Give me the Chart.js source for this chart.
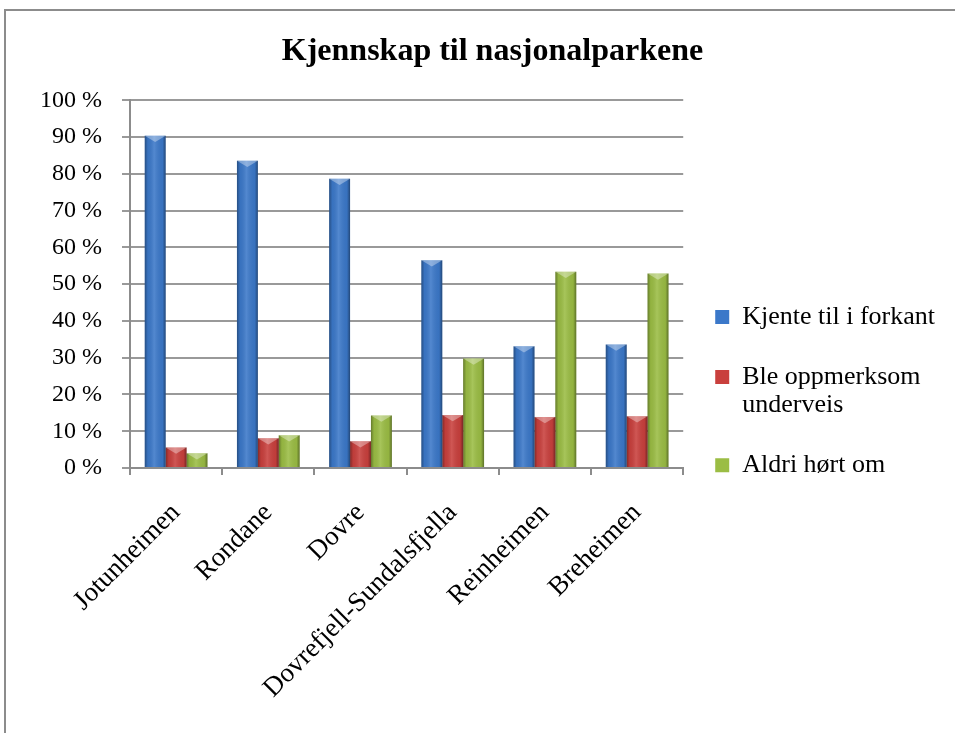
<!DOCTYPE html>
<html>
<head>
<meta charset="utf-8">
<script src="https://cdn.jsdelivr.net/npm/chart.js@4.4.1/dist/chart.umd.min.js"></script>
<style>
  html, body { margin: 0; padding: 0; background: #fff; overflow: hidden; }
  #frame { position: absolute; left: 4px; top: 9px; width: 1000px; height: 800px; border: 2px solid #8c8c8c; }
  #wrap { position: absolute; left: 0; top: 0; width: 955px; height: 733px; }
</style>
</head>
<body>
<div id="frame"></div>
<div id="wrap"><canvas id="chart"></canvas></div>
<script>
var categories = ['Jotunheimen', 'Rondane', 'Dovre', 'Dovrefjell-Sundalsfjella', 'Reinheimen', 'Breheimen'];
var knewBefore = [90.4, 83.6, 78.7, 56.5, 33.1, 33.6];
var noticedOnTheWay = [5.6, 8.1, 7.3, 14.4, 13.9, 14.1];
var neverHeard = [4.0, 8.9, 14.3, 29.8, 53.4, 52.9];
var seriesNames = ['Kjente til i forkant', 'Ble oppmerksom underveis', 'Aldri hørt om'];
var legendLines = [['Kjente til i forkant'], ['Ble oppmerksom', 'underveis'], ['Aldri hørt om']];
var yTicks = [0, 10, 20, 30, 40, 50, 60, 70, 80, 90, 100];

var serif = '"Liberation Serif", "Times New Roman", serif';

// shading on top of the flat bars, roughly like the office 3d bevel
var bevel = {
  id: 'bevel',
  afterDatasetsDraw: function (chart) {
    var ctx = chart.ctx;
    chart.data.datasets.forEach(function (ds, i) {
      chart.getDatasetMeta(i).data.forEach(function (bar) {
        var p = bar.getProps(['x', 'y', 'base', 'width'], true);
        var l = p.x - p.width / 2, r = p.x + p.width / 2;
        var g = ctx.createLinearGradient(l, 0, r, 0);
        g.addColorStop(0, 'rgba(0,0,0,0.35)');
        g.addColorStop(0.15, 'rgba(0,0,0,0.05)');
        g.addColorStop(0.45, 'rgba(255,255,255,0.12)');
        g.addColorStop(0.85, 'rgba(0,0,0,0.05)');
        g.addColorStop(1, 'rgba(0,0,0,0.4)');
        ctx.save();
        ctx.fillStyle = g;
        ctx.fillRect(l, p.y, p.width, p.base - p.y);
        var h = Math.min(p.width * 0.3, p.base - p.y);
        ctx.beginPath();
        ctx.moveTo(l, p.y);
        ctx.lineTo(r, p.y);
        ctx.lineTo(p.x, p.y + h);
        ctx.closePath();
        ctx.fillStyle = 'rgba(255,255,255,0.35)';
        ctx.fill();
        ctx.restore();
      });
    });
  }
};

var ctx = document.getElementById('chart').getContext('2d');

new Chart(ctx, {
  type: 'bar',
  data: {
    labels: categories,
    datasets: [{
      label: seriesNames[0],
      backgroundColor: '#3b78c9',
      data: knewBefore
    }, {
      label: seriesNames[1],
      backgroundColor: '#c9403d',
      data: noticedOnTheWay
    }, {
      label: seriesNames[2],
      backgroundColor: '#9bbd44',
      data: neverHeard
    }]
  },
  options: {
    responsive: true,
    maintainAspectRatio: false,
    animation: false,
    layout: {
      padding: { left: 40, right: 10, top: 0, bottom: 0 }
    },
    datasets: {
      bar: { categoryPercentage: 0.68, barPercentage: 1 }
    },
    plugins: {
      title: {
        display: true,
        text: 'Kjennskap til nasjonalparkene',
        color: '#000',
        font: { family: serif, size: 32, weight: 'bold', lineHeight: 1.2 },
        padding: { top: 33, bottom: 29 }
      },
      legend: {
        position: 'right',
        align: 'center',
        maxWidth: 400,
        title: {
          display: true,
          text: '',
          font: { size: 12, lineHeight: 1.2 },
          padding: { top: 0, bottom: 37 }
        },
        labels: {
          boxWidth: 14,
          boxHeight: 14,
          padding: 32,
          color: '#000',
          font: { family: serif, size: 26, lineHeight: 1.08 },
          generateLabels: function (chart) {
            var items = Chart.defaults.plugins.legend.labels.generateLabels(chart);
            items.forEach(function (it, i) {
              it.text = legendLines[i];
              it.lineWidth = 0;
            });
            return items;
          }
        }
      },
      tooltip: { enabled: false }
    },
    scales: {
      x: {
        grid: {
          display: true,
          drawOnChartArea: false,
          drawTicks: true,
          tickLength: 7,
          offset: true,
          color: '#8c8c8c',
          lineWidth: 2
        },
        border: { color: '#8c8c8c', width: 2 },
        ticks: {
          minRotation: 45,
          maxRotation: 45,
          padding: 22,
          color: '#000',
          font: { family: serif, size: 27 }
        },
        afterFit: function (scale) { scale.height = 265; }
      },
      y: {
        min: 0,
        max: 100,
        afterBuildTicks: function (scale) {
          scale.ticks = yTicks.map(function (v) { return { value: v }; });
        },
        ticks: {
          padding: 20,
          color: '#000',
          font: { family: serif, size: 24 },
          callback: function (v) { return v + ' %'; }
        },
        grid: { color: '#999', lineWidth: 2, tickLength: 8 },
        border: { color: '#8c8c8c', width: 2 },
        afterFit: function (scale) { scale.width = 90; }
      }
    }
  },
  plugins: [bevel]
});
</script>
</body>
</html>
